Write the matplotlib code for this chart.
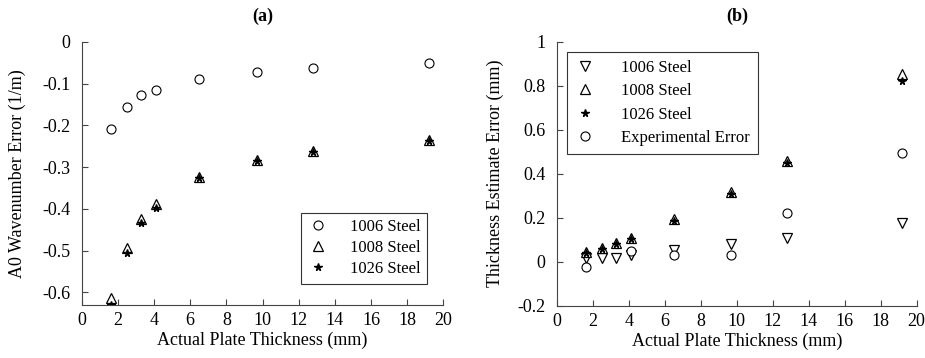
import numpy as np
import matplotlib.pyplot as plt
from matplotlib.ticker import FuncFormatter

# Espesores de placa (mm)
thick = [1.6, 2.5, 3.3, 4.1, 6.5, 9.7, 12.8, 19.2]

# (a) Error en el numero de onda A0 (1/m)
wn_1006 = [-0.208, -0.156, -0.128, -0.114, -0.090, -0.072, -0.063, -0.051]
wn_1008 = [-0.614, -0.493, -0.425, -0.387, -0.324, -0.283, -0.261, -0.236]
wn_1026 = [-0.630, -0.505, -0.433, -0.397, -0.326, -0.285, -0.263, -0.238]

# (b) Error en la estimacion del espesor (mm)
th_1006 = [0.017, 0.017, 0.017, 0.030, 0.053, 0.080, 0.106, 0.177]
th_1008 = [0.045, 0.062, 0.087, 0.110, 0.192, 0.315, 0.460, 0.855]
th_1026 = [0.038, 0.058, 0.080, 0.105, 0.185, 0.308, 0.450, 0.820]
exp_thick = [1.6, 4.1, 6.5, 9.7, 12.8, 19.2]
exp_err = [-0.023, 0.048, 0.032, 0.032, 0.222, 0.495]

plt.rcParams['font.family'] = ['Liberation Serif', 'DejaVu Serif']
plt.rcParams['font.size'] = 13


def etiqueta(v, p):
    v = round(v, 2)
    if abs(v) < 1e-9:
        return '0'
    return '%g' % v


fig = plt.figure(figsize=(9.25, 3.58), dpi=100)
ax1 = fig.add_axes([0.0883, 0.148, 0.391, 0.735])
ax2 = fig.add_axes([0.602, 0.146, 0.389, 0.7375])

# Grafica (a)
ax1.plot(thick, wn_1006, 'o', mfc='white', mec='black', ms=6.5, mew=0.8, label='1006 Steel')
ax1.plot(thick, wn_1008, '^', mfc='white', mec='black', ms=7.5, mew=0.9, label='1008 Steel')
ax1.plot(thick, wn_1026, '*', color='black', ms=5.5, label='1026 Steel')
ax1.set_xlim(0, 20)
ax1.set_ylim(-0.63, 0)
ax1.set_xticks(np.arange(0, 21, 2))
ax1.set_yticks(np.arange(-0.6, 0.01, 0.1))
ax1.set_title('(a)', fontweight='bold', fontsize=13, pad=15)
ax1.set_xlabel('Actual Plate Thickness (mm)', labelpad=2)
ax1.set_ylabel('A0 Wavenumber Error (1/m)', labelpad=12)
leg1 = ax1.legend(loc='lower right', bbox_to_anchor=(0.955, 0.08), borderaxespad=0,
                  fontsize=12, frameon=True, fancybox=False, edgecolor='black',
                  handlelength=1.2, handletextpad=1.3, labelspacing=0.3, borderpad=0.4)
leg1.get_frame().set_linewidth(0.8)

# Grafica (b)
ax2.plot(thick, th_1006, 'v', mfc='white', mec='black', ms=7.5, mew=0.9, label='1006 Steel')
ax2.plot(thick, th_1008, '^', mfc='white', mec='black', ms=7.5, mew=0.9, label='1008 Steel')
ax2.plot(thick, th_1026, '*', color='black', ms=5.5, label='1026 Steel')
ax2.plot(exp_thick, exp_err, 'o', mfc='white', mec='black', ms=6.5, mew=0.8, label='Experimental Error')
ax2.set_xlim(0, 20)
ax2.set_ylim(-0.2, 1)
ax2.set_xticks(np.arange(0, 21, 2))
ax2.set_yticks(np.arange(-0.2, 1.01, 0.2))
ax2.set_title('(b)', fontweight='bold', fontsize=13, pad=15)
ax2.set_xlabel('Actual Plate Thickness (mm)', labelpad=2)
ax2.set_ylabel('Thickness Estimate Error (mm)', labelpad=10)
leg2 = ax2.legend(loc='upper left', bbox_to_anchor=(0.029, 0.961), borderaxespad=0,
                  fontsize=12, frameon=True, fancybox=False, edgecolor='black',
                  handlelength=1.2, handletextpad=1.6, labelspacing=0.45, borderpad=0.45)
leg2.get_frame().set_linewidth(0.8)

for ax in (ax1, ax2):
    ax.spines['top'].set_visible(False)
    ax.spines['right'].set_visible(False)
    ax.spines['left'].set_color('#444444')
    ax.spines['bottom'].set_color('#444444')
    ax.yaxis.set_major_formatter(FuncFormatter(etiqueta))
    ax.tick_params(direction='in', length=4, color='#444444', labelsize=13)
    ax.tick_params(axis='y', pad=8)
    ax.tick_params(axis='x', pad=5)

plt.savefig('out.png', dpi=100)
